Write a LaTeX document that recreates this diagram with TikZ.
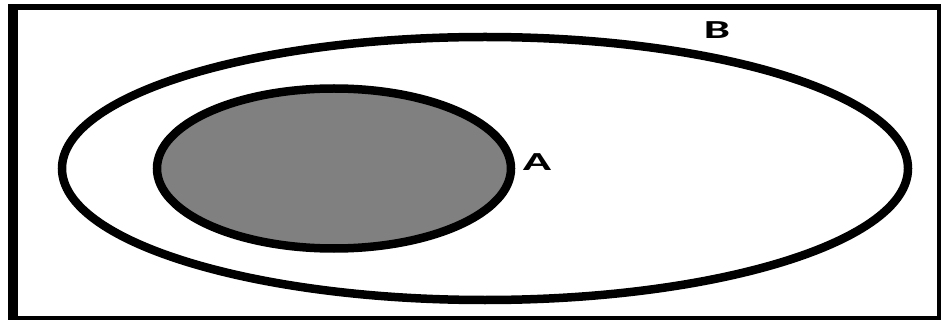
\documentclass[tikz,border=0pt]{standalone}
\usepackage{fontspec}
\setmainfont{Carlito}
\usepackage{tikz}

\begin{document}
\begin{tikzpicture}[
        x=1pt, y=-1pt,
        frame/.style={fill=black},
        setline/.style={draw=black, line width=8.5pt},
        lbl/.style={font=\fontsize{26}{30}\selectfont\bfseries, inner sep=0pt}
    ]
        \useasboundingbox (0,0) rectangle (941,320);
        % outer frame
        \fill[frame] (8,4) rectangle (18,320);
        \fill[frame] (8,4) rectangle (941,10);
        \fill[frame] (937,4) rectangle (941,320);
        \fill[frame] (8,316) rectangle (941,320);
        % sets
        \draw[setline] (485,168.5) ellipse [x radius=423, y radius=131.5];
        \draw[setline, fill={rgb,255:red,128;green,128;blue,128}] (334,168.5) ellipse [x radius=177, y radius=80];
        \node[lbl] (labA) at (537,162) {\scalebox{1.8}[1]{A}};
        \node[lbl] (labB) at (717,30) {\scalebox{1.8}[1]{B}};
    \end{tikzpicture}
\end{document}
